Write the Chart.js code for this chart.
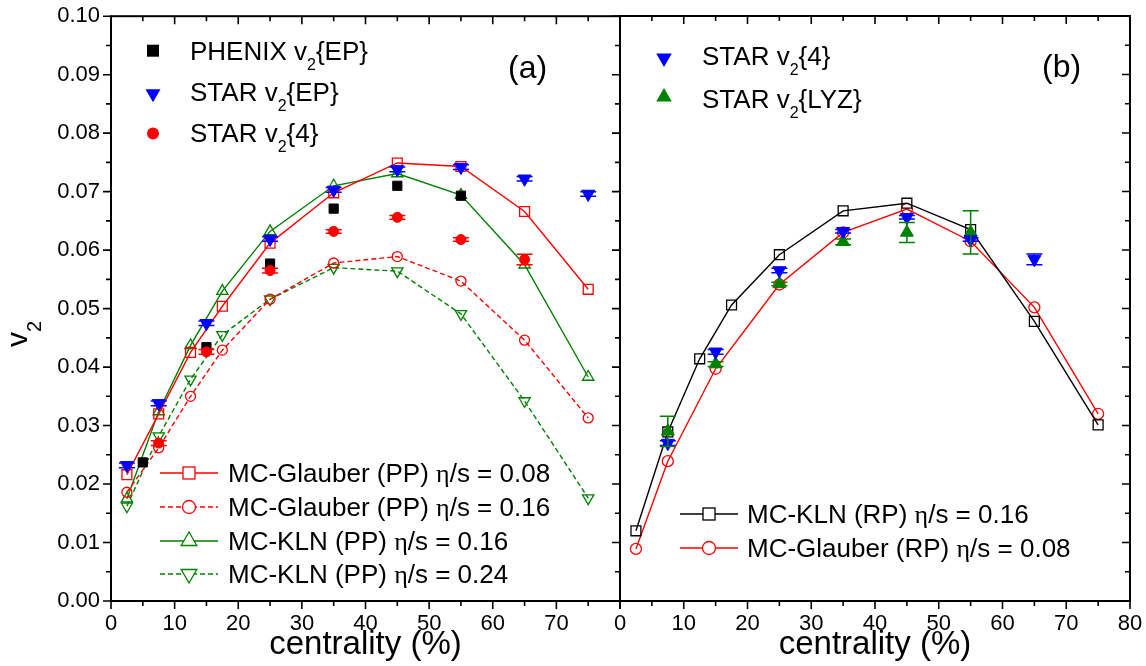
<!DOCTYPE html>
<html>
<head>
<meta charset="utf-8">
<script src="https://cdn.jsdelivr.net/npm/chart.js@4.4.1/dist/chart.umd.min.js"></script>
<style>
  body { margin: 0; background: #fff; }
  #wrap { position: relative; width: 1146px; height: 666px; overflow: hidden; background: #fff;
          font-family: 'Liberation Sans', Arial, sans-serif; color: #000; }
  .box { position: absolute; top: 0; }
  .lab { position: absolute; font-size: 26px; line-height: 26px; white-space: nowrap; }
  .lab sub { font-size: 16px; vertical-align: -10px; line-height: 0; }
  .eta { font-family: 'Liberation Serif', serif; }
  .panel { position: absolute; font-size: 32px; line-height: 32px; }
  #ytitle { position: absolute; left: 2px; top: 347px; font-size: 30px; line-height: 30px;
            transform-origin: 0 0; transform: rotate(-90deg); white-space: nowrap; }
  #ytitle sub { font-size: 20px; vertical-align: -14px; line-height: 0; }
  svg { position: absolute; left: 0; top: 0; pointer-events: none; }
</style>
</head>
<body>
<div id="wrap">
  <div class="box" style="left:0;width:640px;height:666px"><canvas id="chartA" width="640" height="666"></canvas></div>
  <div class="box" style="left:600px;width:546px;height:666px"><canvas id="chartB" width="546" height="666"></canvas></div>

  <svg width="1146" height="666">
    <!-- legend (a) top -->
    <rect x="147" y="44.7" width="12" height="12" fill="#000"/>
    <polygon points="153,102.2 145.5,89.2 160.5,89.2" fill="#0000FF"/>
    <circle cx="153" cy="133.5" r="6" fill="#FF0000"/>
    <!-- legend (b) top -->
    <polygon points="664,67 656.2,53.5 671.8,53.5" fill="#0000FF"/>
    <polygon points="664,88 656.2,101.5 671.8,101.5" fill="#008000"/>
    <!-- legend (a) bottom -->
    <line x1="160" y1="473" x2="218" y2="473" stroke="#FF0000" stroke-width="1.5"/>
    <rect x="183" y="467" width="12" height="12" fill="#fff" stroke="#FF0000" stroke-width="1.3"/>
    <line x1="160" y1="507" x2="218" y2="507" stroke="#FF0000" stroke-width="1.5" stroke-dasharray="5,3"/>
    <circle cx="189" cy="507" r="6.5" fill="#fff" stroke="#FF0000" stroke-width="1.3"/>
    <line x1="160" y1="541" x2="218" y2="541" stroke="#008000" stroke-width="1.5"/>
    <polygon points="189,532 181.2,545.5 196.8,545.5" fill="#fff" stroke="#008000" stroke-width="1.3"/>
    <line x1="160" y1="574" x2="218" y2="574" stroke="#008000" stroke-width="1.5" stroke-dasharray="5,3"/>
    <polygon points="189,583 181.2,569.5 196.8,569.5" fill="#fff" stroke="#008000" stroke-width="1.3"/>
    <!-- legend (b) bottom -->
    <line x1="680" y1="514" x2="738" y2="514" stroke="#000" stroke-width="1.5"/>
    <rect x="703" y="508" width="12" height="12" fill="#fff" stroke="#000" stroke-width="1.3"/>
    <line x1="680" y1="548" x2="738" y2="548" stroke="#FF0000" stroke-width="1.5"/>
    <circle cx="709" cy="548" r="6.5" fill="#fff" stroke="#FF0000" stroke-width="1.3"/>
  </svg>

  <div class="lab" style="left:190px;top:38px">PHENIX v<sub>2</sub>{EP}</div>
  <div class="lab" style="left:190px;top:79px">STAR v<sub>2</sub>{EP}</div>
  <div class="lab" style="left:190px;top:120px">STAR v<sub>2</sub>{4}</div>
  <div class="lab" style="left:702px;top:43px">STAR v<sub>2</sub>{4}</div>
  <div class="lab" style="left:702px;top:86px">STAR v<sub>2</sub>{LYZ}</div>

  <div class="lab" style="left:228px;top:460px">MC-Glauber (PP) <span class="eta">η</span>/s = 0.08</div>
  <div class="lab" style="left:228px;top:494px">MC-Glauber (PP) <span class="eta">η</span>/s = 0.16</div>
  <div class="lab" style="left:228px;top:528px">MC-KLN (PP) <span class="eta">η</span>/s = 0.16</div>
  <div class="lab" style="left:228px;top:561px">MC-KLN (PP) <span class="eta">η</span>/s = 0.24</div>
  <div class="lab" style="left:747px;top:501px">MC-KLN (RP) <span class="eta">η</span>/s = 0.16</div>
  <div class="lab" style="left:747px;top:535px">MC-Glauber (RP) <span class="eta">η</span>/s = 0.08</div>

  <div class="panel" style="left:508px;top:51px">(a)</div>
  <div class="panel" style="left:1042px;top:50px">(b)</div>
  <div id="ytitle">v<sub>2</sub></div>
</div>

<script>
// centrality bins (%)
const xModel = [2.5, 7.5, 12.5, 17.5, 25, 35, 45, 55, 65, 75];
const xPhenix = [5, 15, 25, 35, 45, 55];
const xStarEP = [2.5, 7.5, 15, 25, 35, 45, 55, 65, 75];
const xStar4 = [7.5, 15, 25, 35, 45, 55, 65];
const xLYZ = [7.5, 15, 25, 35, 45, 55];
const xGlauberRP = [2.5, 7.5, 15, 25, 35, 45, 55, 65, 75];

// panel (a): hydro with participant plane
const glauberPP08 = [0.0216, 0.0320, 0.0425, 0.0504, 0.0612, 0.0698, 0.0749, 0.0743, 0.0666, 0.0533];
const glauberPP16 = [0.0186, 0.0262, 0.0350, 0.0429, 0.0516, 0.0578, 0.0589, 0.0547, 0.0446, 0.0313];
const klnPP16 = [0.0175, 0.0324, 0.0437, 0.0530, 0.0632, 0.0710, 0.0731, 0.0694, 0.0575, 0.0383];
const klnPP24 = [0.0162, 0.0282, 0.0379, 0.0455, 0.0516, 0.0570, 0.0564, 0.0491, 0.0342, 0.0176];

// data
const phenixEP = [0.0237, 0.0434, 0.0577, 0.0671, 0.0710, 0.0693];
const starEP = [0.0232, 0.0338, 0.0475, 0.0619, 0.0703, 0.0738, 0.0742, 0.0722, 0.0696];
const starEPerr = [0.0004, 0.0004, 0.0004, 0.0004, 0.0004, 0.0004, 0.0004, 0.0004, 0.0004];
const star4 = [0.0270, 0.0426, 0.0565, 0.0632, 0.0656, 0.0618, 0.0584];
const star4err = [0.0004, 0.0004, 0.0004, 0.0003, 0.0003, 0.0003, 0.0009];
const starLYZ = [0.0290, 0.0405, 0.0542, 0.0614, 0.0630, 0.0630];
const starLYZerr = [0.0026, 0.0004, 0.0003, 0.0005, 0.0017, 0.0037];

// panel (b): hydro with reaction plane
const klnRP16 = [0.0120, 0.0289, 0.0414, 0.0506, 0.0592, 0.0667, 0.0680, 0.0635, 0.0478, 0.0301];
const glauberRP08 = [0.0089, 0.0239, 0.0397, 0.0541, 0.0630, 0.0670, 0.0615, 0.0502, 0.0320];

const yTicks = { min: 0, max: 0.1, step: 0.01 };
const xTicks = { min: 0, max: 80, step: 10 };

const RED = '#FF0000', BLUE = '#0000FF', GREEN = '#008000', BLACK = '#000000';
const NONE = 'rgba(0,0,0,0)';

Chart.defaults.font.family = "'Liberation Sans', Arial, sans-serif";
Chart.defaults.color = '#000';

const pts = (xs, ys) => xs.map((x, i) => ({ x: x, y: ys[i] }));

// down-pointing triangles are chart.js triangles turned by 180 degrees
function model(label, xs, ys, color, style, dashed, radius) {
    return {
        label: label,
        data: pts(xs, ys),
        borderColor: color,
        borderWidth: 1.4,
        borderDash: dashed ? [5, 3] : [],
        pointStyle: style === 'triangleDown' ? 'triangle' : style,
        pointRotation: style === 'triangleDown' ? 180 : 0,
        pointRadius: radius,
        pointBorderColor: color,
        pointBackgroundColor: NONE,
        pointBorderWidth: 1.3,
        fill: false
    };
}

function points(label, xs, ys, color, style, radius, errs) {
    return {
        label: label,
        data: pts(xs, ys),
        showLine: false,
        pointStyle: style === 'triangleDown' ? 'triangle' : style,
        pointRotation: style === 'triangleDown' ? 180 : 0,
        pointRadius: radius,
        pointBorderColor: color,
        pointBackgroundColor: color,
        pointBorderWidth: 1,
        errors: errs
    };
}

const errorBars = {
    id: 'errorBars',
    afterDatasetsDraw(chart) {
        const ctx = chart.ctx;
        chart.data.datasets.forEach((ds, i) => {
            if (!ds.errors) return;
            const meta = chart.getDatasetMeta(i);
            const xs = chart.scales[meta.xAxisID], ys = chart.scales[meta.yAxisID];
            ctx.save();
            ctx.strokeStyle = ds.pointBorderColor;
            ctx.lineWidth = 1.5;
            ds.data.forEach((p, j) => {
                const e = ds.errors[j];
                const px = xs.getPixelForValue(p.x);
                const top = ys.getPixelForValue(p.y + e), bot = ys.getPixelForValue(p.y - e);
                ctx.beginPath();
                ctx.moveTo(px, top); ctx.lineTo(px, bot);
                ctx.moveTo(px - 8, top); ctx.lineTo(px + 8, top);
                ctx.moveTo(px - 8, bot); ctx.lineTo(px + 8, bot);
                ctx.stroke();
            });
            ctx.restore();
        });
    }
};

// box around the plot, minor ticks, inward ticks on top and right
const frame = {
    id: 'frame',
    afterDraw(chart, args, opts) {
        const { ctx, chartArea: a } = chart;
        const x = chart.scales.x, y = chart.scales.y;
        ctx.save();
        ctx.strokeStyle = '#000';
        ctx.lineWidth = 1.6;
        ctx.beginPath();
        for (let v = xTicks.min; v <= xTicks.max; v += xTicks.step / 2) {
            const px = x.getPixelForValue(v);
            const len = v % xTicks.step === 0 ? 8 : 5;
            ctx.moveTo(px, a.bottom); ctx.lineTo(px, a.bottom + len);
            ctx.moveTo(px, a.top); ctx.lineTo(px, a.top + len);
        }
        for (let i = 0; i <= 20; i++) {
            const py = y.getPixelForValue(i * yTicks.step / 2);
            const len = i % 2 === 0 ? 8 : 5;
            if (opts.left) { ctx.moveTo(a.left, py); ctx.lineTo(a.left - len, py); }
            ctx.moveTo(a.right, py); ctx.lineTo(a.right - len, py);
        }
        ctx.stroke();
        ctx.lineWidth = 2;
        ctx.strokeRect(a.left, a.top, a.right - a.left, a.bottom - a.top);
        ctx.restore();
    }
};

function xScale(hideLast) {
    return {
        type: 'linear',
        position: 'bottom',
        min: xTicks.min, max: xTicks.max,
        ticks: {
            stepSize: xTicks.step, autoSkip: false, maxRotation: 0, padding: 2,
            font: { size: 22 }, color: '#000',
            callback: v => (hideLast && v === xTicks.max) ? '' : String(v)
        },
        grid: { display: true, drawOnChartArea: false, drawTicks: true, tickLength: 8, tickColor: NONE },
        border: { display: false },
        title: { display: true, text: 'centrality (%)', font: { size: 33 }, color: '#000', padding: { top: 0, bottom: 1 } },
        afterFit: s => { s.height = 65; }
    };
}

function yScale(show) {
    return {
        type: 'linear',
        display: show,
        min: yTicks.min, max: yTicks.max,
        ticks: {
            stepSize: yTicks.step, padding: 3, font: { size: 22 }, color: '#000',
            callback: v => v.toFixed(2)
        },
        grid: { display: true, drawOnChartArea: false, drawTicks: true, tickLength: 8, tickColor: NONE },
        border: { display: false },
        afterFit: s => { s.width = show ? 111 : 0; }
    };
}

function baseOptions(padding, frameOpts, hideLast, showY) {
    return {
        responsive: false,
        animation: false,
        devicePixelRatio: 1,
        layout: { padding: padding },
        elements: { line: { tension: 0 } },
        plugins: { legend: { display: false }, tooltip: { enabled: false }, frame: frameOpts },
        scales: { x: xScale(hideLast), y: yScale(showY) }
    };
}

new Chart(document.getElementById('chartA'), {
    type: 'line',
    data: {
        datasets: [
            points('STAR v2{EP}', xStarEP, starEP, BLUE, 'triangleDown', 7.5, starEPerr),
            points('STAR v2{4}', xStar4, star4, RED, 'circle', 5, star4err),
            points('PHENIX v2{EP}', xPhenix, phenixEP, BLACK, 'rect', 6.5),
            model('MC-Glauber (PP) η/s = 0.08', xModel, glauberPP08, RED, 'rect', false, 7),
            model('MC-Glauber (PP) η/s = 0.16', xModel, glauberPP16, RED, 'circle', true, 5),
            model('MC-KLN (PP) η/s = 0.16', xModel, klnPP16, GREEN, 'triangle', false, 6.5),
            model('MC-KLN (PP) η/s = 0.24', xModel, klnPP24, GREEN, 'triangleDown', true, 6.5)
        ]
    },
    options: baseOptions({ left: 0, right: 20, top: 16, bottom: 0 }, { left: true }, true, true),
    plugins: [errorBars, frame]
});

new Chart(document.getElementById('chartB'), {
    type: 'line',
    data: {
        datasets: [
            points('STAR v2{4}', xStar4, star4, BLUE, 'triangleDown', 7.5, star4err),
            points('STAR v2{LYZ}', xLYZ, starLYZ, GREEN, 'triangle', 7.5, starLYZerr),
            model('MC-KLN (RP) η/s = 0.16', xModel, klnRP16, BLACK, 'rect', false, 7),
            model('MC-Glauber (RP) η/s = 0.08', xGlauberRP, glauberRP08, RED, 'circle', false, 5.5)
        ]
    },
    options: baseOptions({ left: 20, right: 16, top: 16, bottom: 0 }, { left: false }, false, false),
    plugins: [errorBars, frame]
});
</script>
</body>
</html>
